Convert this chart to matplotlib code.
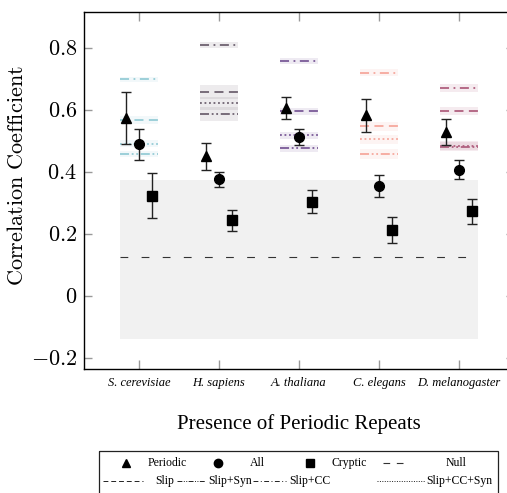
import numpy as np
import matplotlib
matplotlib.use("Agg")
import matplotlib.pyplot as plt
from matplotlib.patches import Rectangle

plt.rcParams['mathtext.fontset'] = 'cm'
plt.rcParams['font.family'] = ['Liberation Serif', 'DejaVu Serif']

# --- data ---
species = ['S. cerevisiae', 'H. sapiens', 'A. thaliana', 'C. elegans', 'D. melanogaster']

periodic = [0.574, 0.450, 0.606, 0.582, 0.529]
periodic_err = [0.085, 0.045, 0.035, 0.053, 0.043]
all_repeats = [0.490, 0.376, 0.513, 0.355, 0.408]
all_err = [0.050, 0.025, 0.025, 0.035, 0.030]
cryptic = [0.324, 0.244, 0.304, 0.213, 0.273]
cryptic_err = [0.072, 0.035, 0.037, 0.043, 0.041]

null_mean = 0.125
null_lo = -0.137
null_hi = 0.375

slip = [0.567, 0.658, 0.595, 0.547, 0.596]
slip_sd = [0.012, 0.022, 0.012, 0.015, 0.012]
slip_syn = [0.459, 0.586, 0.476, 0.458, 0.482]
slip_syn_sd = [0.010, 0.022, 0.012, 0.017, 0.015]
slip_cc = [0.699, 0.809, 0.757, 0.719, 0.671]
slip_cc_sd = [0.008, 0.011, 0.010, 0.011, 0.012]
slip_cc_syn = [0.491, 0.621, 0.518, 0.505, 0.485]
slip_cc_syn_sd = [0.012, 0.020, 0.012, 0.015, 0.015]

species_colors = ['#96ccd6', '#6e6270', '#7a5a98', '#f6a89d', '#b0607f']

yticks = [-0.2, 0, 0.2, 0.4, 0.6, 0.8]
ytick_labels = [r'$-0.2$', r'$0$', r'$0.2$', r'$0.4$', r'$0.6$', r'$0.8$']

W, H = 507, 493
fig = plt.figure(figsize=(W / 100, H / 100), dpi=100)
ax = fig.add_axes([84 / W, 1 - 369 / H, 430 / W, 357.3 / H])

x = np.arange(1, len(species) + 1)
half = 0.24
off = 0.167

# null band + mean line
ax.fill_between([x[0] - half, x[-1] + half], null_lo, null_hi, color='#f1f1f1', lw=0, zorder=0)
ax.plot([x[0] - half, x[-1] + half], [null_mean, null_mean], color='#333333', lw=0.8,
        dashes=(7, 12), zorder=1)

# simulated model lines per species
models = [
    (slip, slip_sd, (5, 3)),
    (slip_syn, slip_syn_sd, (5, 1.5, 1, 1.5, 1, 1.5)),
    (slip_cc, slip_cc_sd, (5, 2.5, 1, 2.5)),
    (slip_cc_syn, slip_cc_syn_sd, (1, 1.5)),
]
for i, xi in enumerate(x):
    c = species_colors[i]
    for vals, sds, dash in models:
        ax.fill_between([xi - half, xi + half], vals[i] - sds[i], vals[i] + sds[i],
                        color=c, alpha=0.12, lw=0, zorder=2)
        ax.plot([xi - half, xi + half], [vals[i], vals[i]], color=c, lw=1.3,
                dashes=dash, zorder=3)

# observed correlations
ekw = dict(color='black', ecolor='#222222', elinewidth=1.0, capsize=3.5, capthick=1.0,
           linestyle='none', zorder=5)
ax.errorbar(x - off, periodic, yerr=periodic_err, marker='^', ms=7, **ekw)
ax.errorbar(x, all_repeats, yerr=all_err, marker='o', ms=7, **ekw)
ax.errorbar(x + off, cryptic, yerr=cryptic_err, marker='s', ms=6.5, **ekw)

ax.set_xlim(0.3125, 5.6875)
ax.set_ylim(-0.234, 0.916)
ax.set_xticks(x)
ax.set_xticklabels(species, fontsize=9, style='italic')
ax.set_yticks(yticks)
ax.set_yticklabels(ytick_labels, fontsize=16)
ax.tick_params(direction='in', top=True, right=True, color='#999999', width=1.0)
ax.tick_params(axis='x', length=6.5, pad=6)
ax.tick_params(axis='y', length=6, pad=5)
for s in ax.spines.values():
    s.set_linewidth(1.0)

ax.set_xlabel('Presence of Periodic Repeats', fontsize=15, va='center')
ax.xaxis.set_label_coords(0.5, -0.154)
ax.set_ylabel(r'$\mathrm{Correlation\ Coefficient}$', fontsize=16)
ax.yaxis.set_label_coords(-0.13, 0.54)

# hand-built legend box below the axes (figure pixel coords)
lax = fig.add_axes([0, 0, 1, 1])
lax.set_xlim(0, W)
lax.set_ylim(H, 0)
lax.axis('off')
lax.add_patch(Rectangle((99, 451), 399, 60, fill=False, ec='#222222', lw=0.9))

r1, r2 = 463, 481
fs = 8.5
lax.plot([126], [r1], marker='^', color='black', ms=5.5)
lax.text(167, r1, 'Periodic', ha='center', va='center', fontsize=fs)
lax.plot([218], [r1], marker='o', color='black', ms=6)
lax.text(257, r1, 'All', ha='center', va='center', fontsize=fs)
lax.plot([310], [r1], marker='s', color='black', ms=5.5)
lax.text(349, r1, 'Cryptic', ha='center', va='center', fontsize=fs)
lax.plot([383, 407], [r1, r1], color='#333333', lw=0.8, dashes=(6, 6))
lax.text(456, r1, 'Null', ha='center', va='center', fontsize=fs)

lax.plot([103, 143], [r2, r2], color='#222222', lw=0.7, dashes=(5, 3))
lax.text(155, r2, 'Slip', ha='left', va='center', fontsize=fs)
lax.plot([177, 205], [r2, r2], color='#222222', lw=0.7, dashes=(5, 1.5, 1, 1.5, 1, 1.5))
lax.text(208, r2, 'Slip+Syn', ha='left', va='center', fontsize=fs)
lax.plot([253, 286], [r2, r2], color='#222222', lw=0.7, dashes=(5, 2.5, 1, 2.5))
lax.text(289, r2, 'Slip+CC', ha='left', va='center', fontsize=fs)
lax.plot([377, 425], [r2, r2], color='#222222', lw=0.7, dashes=(1, 1.5))
lax.text(492, r2, 'Slip+CC+Syn', ha='right', va='center', fontsize=fs)

fig.savefig('out.png', dpi=100)
